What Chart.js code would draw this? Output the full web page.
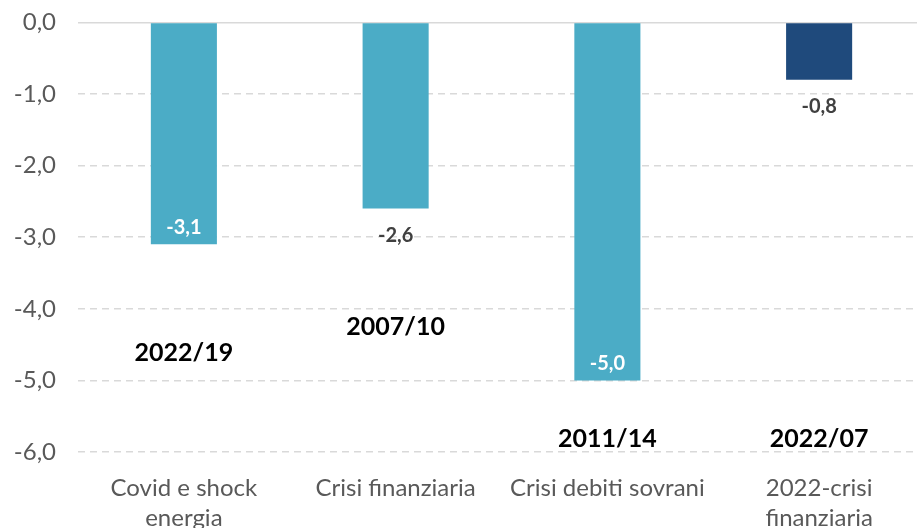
<!DOCTYPE html>
<html>
<head>
<meta charset="utf-8">
<script src="https://cdn.jsdelivr.net/npm/chart.js@4"></script>
<style>
    html, body { margin: 0; padding: 0; background: #fff; overflow: hidden; }
    #wrap { width: 925px; height: 574px; margin-top: -14px; }
</style>
</head>
<body>
<div id="wrap"><canvas id="crisisChart" width="925" height="574"></canvas></div>
<script>
// Chart data
const categories = [
    ['Covid e shock', 'energia'],
    ['Crisi finanziaria'],
    ['Crisi debiti sovrani'],
    ['2022-crisi', 'finanziaria']
];
const values = [-3.1, -2.6, -5.0, -0.8];
const periodLabels = ['2022/19', '2007/10', '2011/14', '2022/07'];
const periodLevels = [-4.62, -4.25, -5.82, -5.82];
const yTicks = [0, -1, -2, -3, -4, -5, -6];

// Styling per bar
const barColors = ['#4BACC6', '#4BACC6', '#4BACC6', '#1F4A7C'];
const valueInside = [true, false, true, false];

const FONT = 'Lato, "Open Sans", sans-serif';

function fmt(v) {
    return v.toFixed(1).replace('.', ',');
}

// Value labels and period annotations
const labelsPlugin = {
    id: 'labelsPlugin',
    afterDatasetsDraw(chart) {
        const ctx = chart.ctx;
        const meta = chart.getDatasetMeta(0);
        const yScale = chart.scales.y;
        ctx.save();
        ctx.textAlign = 'center';
        ctx.textBaseline = 'middle';
        meta.data.forEach((bar, i) => {
            ctx.font = 'bold 20px ' + FONT;
            if (valueInside[i]) {
                ctx.fillStyle = '#ffffff';
                ctx.fillText(fmt(values[i]), bar.x, bar.y - 17);
            } else {
                ctx.fillStyle = '#404040';
                ctx.fillText(fmt(values[i]), bar.x, bar.y + 27);
            }
            ctx.font = 'bold 25px ' + FONT;
            ctx.fillStyle = '#000000';
            ctx.fillText(periodLabels[i], bar.x, yScale.getPixelForValue(periodLevels[i]));
        });
        ctx.restore();
    }
};

new Chart(document.getElementById('crisisChart'), {
    type: 'bar',
    data: {
        labels: categories,
        datasets: [{
            data: values,
            backgroundColor: barColors,
            borderWidth: 0,
            categoryPercentage: 1,
            barPercentage: 0.312
        }]
    },
    options: {
        responsive: false,
        animation: false,
        layout: { padding: { top: 8, right: 0, bottom: 0, left: 0 } },
        plugins: {
            legend: { display: false },
            tooltip: { enabled: false }
        },
        scales: {
            x: {
                grid: { display: false, drawTicks: false },
                border: { display: false },
                ticks: {
                    color: '#595959',
                    font: { family: FONT, size: 24, lineHeight: 1.25 },
                    padding: 21,
                    maxRotation: 0,
                    autoSkip: false
                },
                afterFit(scale) { scale.height = 108; }
            },
            y: {
                min: -6,
                max: 0,
                afterBuildTicks(scale) {
                    scale.ticks = yTicks.map(v => ({ value: v }));
                },
                grid: {
                    color: '#d9d9d9',
                    lineWidth: 1.5,
                    drawTicks: false
                },
                border: {
                    display: false,
                    dash: ctx => ctx.tick && ctx.tick.value === 0 ? [] : [7, 5]
                },
                ticks: {
                    color: '#595959',
                    font: { family: FONT, size: 24 },
                    padding: 22,
                    callback: v => fmt(v)
                },
                afterFit(scale) { scale.width = 78; }
            }
        }
    },
    plugins: [labelsPlugin]
});
</script>
</body>
</html>
